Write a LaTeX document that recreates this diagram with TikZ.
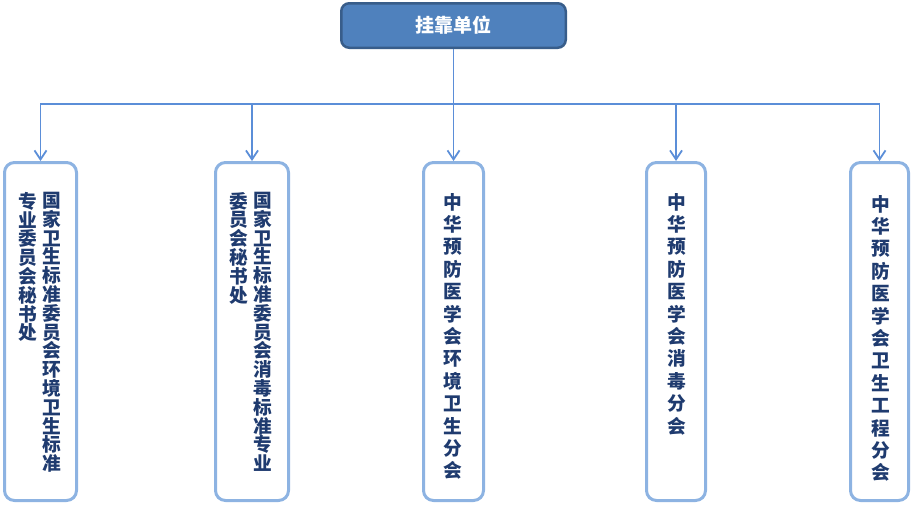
\documentclass[tikz,border=0pt]{standalone}
\usepackage{fontspec}
\usepackage{tikz}
\usetikzlibrary{arrows.meta}
\newfontfamily\cjk{Noto Sans CJK SC}
\definecolor{topfill}{HTML}{4F81BD}
\definecolor{topline}{HTML}{385D8A}
\definecolor{boxline}{HTML}{8DB3E2}
\definecolor{linkline}{HTML}{5B8ED8}
\definecolor{txtblue}{HTML}{1F3B6F}

\begin{document}
\begin{tikzpicture}[x=1pt,y=-1pt,
	head/.style={draw=topline,fill=topfill,line width=2.5pt,rounded corners=8pt,minimum width=224.5pt,minimum height=44.5pt,inner sep=0pt,text=white,font=\cjk\bfseries\fontsize{19}{19}\selectfont},
	unit/.style={draw=boxline,line width=3pt,rounded corners=10pt,minimum height=338pt,inner sep=0pt},
	link/.style={draw=linkline,line width=1.8pt},
	arr/.style={link,-{Straight Barb[length=9pt,width=12pt]}},
	vcol/.style={anchor=north,inner sep=0pt,align=center,text=txtblue,font=\cjk\bfseries\fontsize{18.7}{18.8}\selectfont},
	vrow/.style={vcol,font=\cjk\bfseries\fontsize{18.7}{22.4}\selectfont}]
			\useasboundingbox (0,0) rectangle (914,504);
			\node[head] (top) at (453.5,25.5) {挂靠单位};
			\node[unit,minimum width=72pt] (b1) at (40.5,331.5) {};
			\node[unit,minimum width=73pt] (b2) at (252,331.5) {};
			\node[unit,minimum width=60pt] (b3) at (453.5,331.5) {};
			\node[unit,minimum width=59pt] (b4) at (676,331.5) {};
			\node[unit,minimum width=58pt] (b5) at (879.5,331.5) {};
			\coordinate (bus) at (453.5,104);
			\draw[link] (top.south) -- (bus);
			\foreach \b in {b1,b2,b3,b4,b5}
				\draw[arr] (bus) -| (\b.north);
			\node[vcol] (t1a) at (52,192) {国\\家\\卫\\生\\标\\准\\委\\员\\会\\环\\境\\卫\\生\\标\\准};
			\node[vcol] (t1b) at (28,192) {专\\业\\委\\员\\会\\秘\\书\\处};
			\node[vcol] (t2a) at (263,192) {国\\家\\卫\\生\\标\\准\\委\\员\\会\\消\\毒\\标\\准\\专\\业};
			\node[vcol] (t2b) at (239,192) {委\\员\\会\\秘\\书\\处};
			\node[vrow] (t3) at (453,193) {中\\华\\预\\防\\医\\学\\会\\环\\境\\卫\\生\\分\\会};
			\node[vrow] (t4) at (676.5,193) {中\\华\\预\\防\\医\\学\\会\\消\\毒\\分\\会};
			\node[vrow] (t5) at (880.5,195) {中\\华\\预\\防\\医\\学\\会\\卫\\生\\工\\程\\分\\会};
		\end{tikzpicture}
\end{document}
